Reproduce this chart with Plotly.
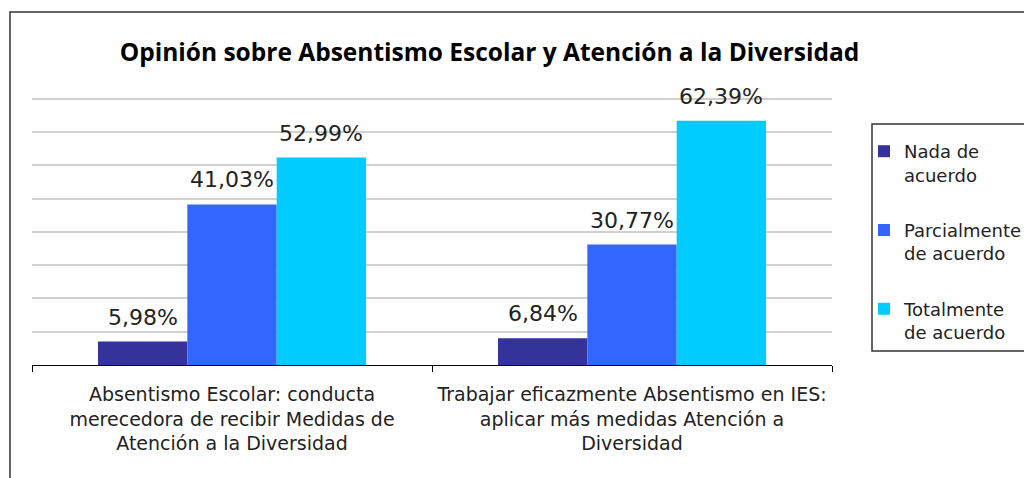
import plotly.graph_objects as go

categories = [
    "Absentismo Escolar: conducta<br>merecedora de recibir Medidas de<br>Atención a la Diversidad",
    "Trabajar eficazmente Absentismo en IES:<br>aplicar más medidas Atención a<br>Diversidad",
]
series_names = ["Nada de<br>acuerdo", "Parcialmente<br>de acuerdo", "Totalmente<br>de acuerdo"]
nada = [5.98, 6.84]
parcial = [41.03, 30.77]
total = [52.99, 62.39]
label_text = [["5,98%", "6,84%"], ["41,03%", "30,77%"], ["52,99%", "62,39%"]]
colors = ["#333399", "#3366FF", "#00CCFF"]
grid_values = [8.5, 17, 25.5, 34, 42.5, 51, 59.5, 68]

values = [nada, parcial, total]
title_text = "Opinión sobre Absentismo Escolar y Atención a la Diversidad"

# page body has an 8px margin; figure coords = screen coords - 8
OFF = 8
W, H = 1016, 470
L, R, T, B = 24, 192, 83, 113
BARGAP = 0.33
pw = W - L - R
ph = H - T - B


def px_x(sx):
    return (sx - OFF - L) / pw


def px_y(sy):
    return (H - B - (sy - OFF)) / ph


fig = go.Figure()
for k, (name, vals, col) in enumerate(zip(series_names, values, colors)):
    fig.add_trace(go.Bar(
        x=categories, y=vals, name=name, marker=dict(color=col, line=dict(width=0)),
        legendgroup=f"g{k}", hoverinfo="y",
    ))

# value labels above bars
bw = (1 - BARGAP) / 3
annotations = []
for k, vals in enumerate(values):
    for i, v in enumerate(vals):
        annotations.append(dict(
            x=i + (k - 1) * bw, y=v, xref="x", yref="y",
            text=label_text[k][i], showarrow=False,
            yanchor="bottom", xanchor="center", yshift=10,
            font=dict(family="DejaVu Sans", size=22, color="#222222"),
        ))

fig.update_layout(
    width=W, height=H,
    margin=dict(l=L, r=R, t=T, b=B, pad=0, autoexpand=False),
    paper_bgcolor="white", plot_bgcolor="white",
    barmode="group", bargap=BARGAP, bargroupgap=0,
    title=dict(
        text=title_text, x=px_x(489.5), xref="paper", xanchor="center",
        y=1 - (52 - OFF) / H, yref="container", yanchor="middle",
        font=dict(family="Open Sans", size=24.5, color="#000000", weight="bold"),
    ),
    xaxis=dict(
        showline=True, linecolor="#000000", linewidth=1,
        ticks="outside", ticklen=6, tickcolor="#000000", tickson="boundaries",
        tickfont=dict(family="DejaVu Sans", size=19, color="#222222"),
        tickangle=0, automargin=False, ticklabelstandoff=12,
        showgrid=False, fixedrange=True,
    ),
    yaxis=dict(
        range=[0, 70], tickvals=grid_values, showticklabels=False,
        showgrid=True, gridcolor="#D0D0D0", gridwidth=1.5,
        zeroline=False, showline=False, ticks="", automargin=False,
    ),
    legend=dict(
        x=px_x(864), xanchor="left", xref="paper",
        y=px_y(133), yanchor="top", yref="paper",
        borderwidth=0, bgcolor="rgba(0,0,0,0)",
        font=dict(family="DejaVu Sans", size=18, color="#222222"),
        traceorder="grouped", tracegroupgap=29, valign="top",
        itemwidth=30,
    ),
    annotations=annotations,
    shapes=[
        dict(
            type="rect", xref="paper", yref="paper",
            x0=px_x(10), x1=px_x(W + 60), y0=px_y(H + 60), y1=px_y(12),
            line=dict(color="#333333", width=1.5), fillcolor="rgba(0,0,0,0)",
            layer="below",
        ),
        dict(
            type="rect", xref="paper", yref="paper",
            x0=px_x(872), x1=px_x(1060), y0=px_y(351), y1=px_y(124),
            line=dict(color="#333333", width=1.5), fillcolor="white",
            layer="below",
        ),
    ],
    showlegend=True,
)

fig.write_html("out.html")
